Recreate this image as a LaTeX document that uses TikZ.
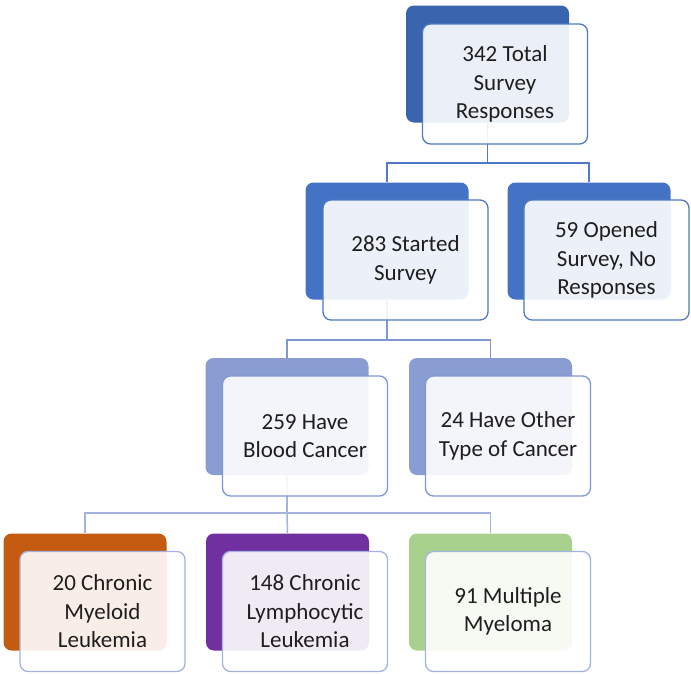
\documentclass[tikz,border=0pt]{standalone}
\usepackage{fontspec}
\setmainfont{Carlito}
\definecolor{bTop}{HTML}{3B64AE}
\definecolor{bMid}{HTML}{4472C4}
\definecolor{bLow}{HTML}{8A9DD3}
\definecolor{bOrange}{HTML}{C55A11}
\definecolor{bPurple}{HTML}{7030A0}
\definecolor{bGreen}{HTML}{A9D18E}
\definecolor{lnA}{HTML}{4F79C8}
\definecolor{lnB}{HTML}{7F98D4}
\definecolor{lnC}{HTML}{A3B3E0}
\definecolor{txt}{HTML}{1E1E1E}
\begin{document}
\begin{tikzpicture}[x=1pt,y=-1pt,
  back/.style={rounded corners=8pt, minimum width=163pt, minimum height=117pt, inner sep=0pt},
  front/.style={draw, line width=1.3pt, rounded corners=8pt, fill=white, fill opacity=0.9, text opacity=1,
    minimum width=165pt, minimum height=120pt, inner sep=0pt, align=center, text=txt,
    font=\fontsize{23}{28.5}\selectfont},
  conn/.style={line width=1.5pt}
]
\useasboundingbox (0,0) rectangle (691,673);
% back boxes
\node[back, fill=bTop] (b1) at (487.5,64) {};
\node[back, fill=bMid] (b2) at (387,241) {};
\node[back, fill=bMid] (b3) at (589,241) {};
\node[back, fill=bLow] (b4) at (287,416.5) {};
\node[back, fill=bLow] (b5) at (490.5,416.5) {};
\node[back, fill=bOrange] (b6) at (85,592) {};
\node[back, fill=bPurple] (b7) at (287.5,592) {};
\node[back, fill=bGreen] (b8) at (490.5,592) {};
% bus coordinates
\coordinate (busA) at (0,163);
\coordinate (busB) at (0,340);
\coordinate (busC) at (0,513);
% connectors
\draw[conn, lnA] (b1.south) -- (b1.south |- busA) -| (b2.north);
\draw[conn, lnA] (b1.south |- busA) -| (b3.north);
\draw[conn, lnB] (b2.south) -- (b2.south |- busB) -| (b4.north);
\draw[conn, lnB] (b2.south |- busB) -| (b5.north);
\draw[conn, lnC] (b4.south) -- (b4.south |- busC) -| (b6.north);
\draw[conn, lnC] (b4.south |- busC) -- (b7.north);
\draw[conn, lnC] (b4.south |- busC) -| (b8.north);
% front boxes
\node[front, draw=lnA] (f1) at (505,84) {342 Total\\Survey\\Responses};
\node[front, draw=lnA] (f2) at (405.5,260) {283 Started\\Survey};
\node[front, draw=lnA] (f3) at (606.5,260) {59 Opened\\Survey, No\\Responses};
\node[front, draw=lnB] (f4) at (305,436) {259 Have\\Blood Cancer};
\node[front, draw=lnB] (f5) at (508,436) {24 Have Other\\Type of Cancer};
\node[front, draw=lnC] (f6) at (102.5,611.5) {20 Chronic\\Myeloid\\Leukemia};
\node[front, draw=lnC] (f7) at (305,611.5) {148 Chronic\\Lymphocytic\\Leukemia};
\node[front, draw=lnC] (f8) at (508,611.5) {91 Multiple\\Myeloma};
\end{tikzpicture}
\end{document}
